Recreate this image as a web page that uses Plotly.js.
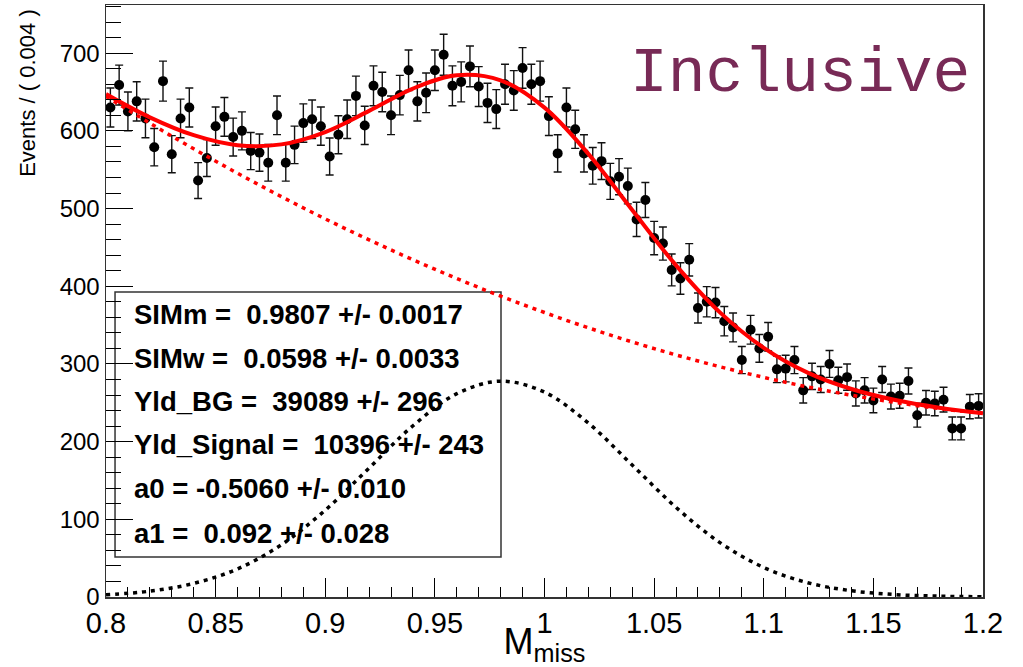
<!DOCTYPE html>
<html>
<head>
<meta charset="utf-8">
<script src="https://cdn.plot.ly/plotly-3.0.1.min.js"></script>
<style>
  html, body { margin: 0; padding: 0; background: #ffffff; }
  #chart { width: 1023px; height: 667px; }
</style>
</head>
<body>
<div id="chart"></div>
<script>
// ---- Data ----
const binCenter = [
  0.802,0.806,0.810,0.814,0.818,0.822,0.826,0.830,0.834,0.838,
  0.842,0.846,0.850,0.854,0.858,0.862,0.866,0.870,0.874,0.878,
  0.882,0.886,0.890,0.894,0.898,0.902,0.906,0.910,0.914,0.918,
  0.922,0.926,0.930,0.934,0.938,0.942,0.946,0.950,0.954,0.958,
  0.962,0.966,0.970,0.974,0.978,0.982,0.986,0.990,0.994,0.998,
  1.002,1.006,1.010,1.014,1.018,1.022,1.026,1.030,1.034,1.038,
  1.042,1.046,1.050,1.054,1.058,1.062,1.066,1.070,1.074,1.078,
  1.082,1.086,1.090,1.094,1.098,1.102,1.106,1.110,1.114,1.118,
  1.122,1.126,1.130,1.134,1.138,1.142,1.146,1.150,1.154,1.158,
  1.162,1.166,1.170,1.174,1.178,1.182,1.186,1.190,1.194,1.198
];
const events = [
  630,659,625,638,616,579,664,570,616,630,
  536,565,606,618,592,600,574,572,559,620,
  559,582,610,615,606,567,595,615,645,607,
  658,650,620,646,678,638,649,678,698,658,
  663,683,657,636,628,660,652,681,660,664,
  619,571,630,602,571,555,561,535,541,529,
  486,511,462,455,421,410,434,372,380,379,
  355,347,305,344,320,335,293,294,305,266,
  284,280,300,279,283,262,266,253,280,258,
  259,278,234,250,249,254,217,217,245,246
];
const curveX = [0.80,0.82,0.84,0.86,0.88,0.90,0.92,0.94,0.96,0.98,1.00,
                1.02,1.04,1.06,1.08,1.10,1.12,1.14,1.16,1.18,1.20];
const totalFit = [647.3,617.4,594.4,581.6,582.6,598.5,625.7,654.5,671.6,665.1,629.9,
                  570.3,498.2,426.9,366.4,320.7,288.8,267.7,253.5,243.7,236.6];
const bgFit = [644.4,609.9,576.9,545.4,515.3,486.7,459.7,434.1,409.9,387.3,366.2,
               346.5,328.3,311.6,296.4,282.7,270.4,259.7,250.4,242.6,236.3];
const sigFit = [2.9,7.5,17.5,36.2,67.3,111.8,166.0,220.4,261.7,277.8,263.7,
                223.8,169.9,115.3,70.0,38.0,18.4,8.0,3.1,1.1,0.3];

const xTickVals = [0.8,0.85,0.9,0.95,1.0,1.05,1.1,1.15,1.2];
const xTickText = ["0.8","0.85","0.9","0.95","1","1.05","1.1","1.15","1.2"];
const yTickVals = [0,100,200,300,400,500,600,700];
const yTickText = ["0","100","200","300","400","500","600","700"];

const paramNames  = ["SIMm","SIMw","Yld_BG","Yld_Signal","a0","a1"];
const paramValues = ["0.9807","0.0598","39089","10396","-0.5060","0.092"];
const paramErrors = ["0.0017","0.0033","296","243","0.010","0.028"];

const xTitle = "M<sub>miss</sub>";
const yTitle = "Events / ( 0.004 )";
const tagText = "Inclusive";

// ---- Traces ----
const dataTrace = {
  x: binCenter, y: events, type: "scatter", mode: "markers",
  marker: { color: "#000000", size: 10, symbol: "circle" },
  error_y: { type: "sqrt", visible: true, color: "#111111", thickness: 1.4, width: 4 },
  hoverinfo: "x+y", showlegend: false
};
const totalTrace = {
  x: curveX, y: totalFit, type: "scatter", mode: "lines",
  line: { color: "#ff0000", width: 4, shape: "spline" }, showlegend: false
};
const bgTrace = {
  x: curveX, y: bgFit, type: "scatter", mode: "lines",
  line: { color: "#ff0000", width: 3.5, dash: "4px,5px", shape: "spline" }, showlegend: false
};
const sigTrace = {
  x: curveX, y: sigFit, type: "scatter", mode: "lines",
  line: { color: "#000000", width: 3.5, dash: "4px,5px", shape: "spline" }, showlegend: false
};

// ---- Stats box text ----
const statLineY = [0.4764, 0.4037, 0.3294, 0.2584, 0.1841, 0.1081];
const annotations = paramNames.map((n, i) => {
  const v = paramValues[i];
  const sep = v.startsWith("-") ? " = " : " =\u00a0 ";
  return {
    xref: "paper", yref: "paper", x: 0.0297, y: statLineY[i],
    xanchor: "left", yanchor: "middle", showarrow: false,
    text: n + sep + v + " +/- " + paramErrors[i],
    font: { family: "Liberation Sans, Arial, sans-serif", size: 27.5, color: "#000000", weight: "bold" }
  };
});
annotations.push({
  xref: "paper", yref: "paper", x: 0.9875, y: 0.8834,
  xanchor: "right", yanchor: "middle", showarrow: false,
  text: tagText,
  font: { family: "Liberation Mono, Courier New, monospace", size: 63, color: "#782a56" }
});
annotations.push({
  xref: "paper", yref: "paper", x: -0.0889, y: 0.997,
  xanchor: "center", yanchor: "top", showarrow: false, textangle: -90,
  text: yTitle,
  font: { family: "Liberation Sans, Arial, sans-serif", size: 22, color: "#000000" }
});

const layout = {
  width: 1023, height: 667,
  margin: { l: 106, r: 40, t: 5, b: 70, pad: 0 },
  paper_bgcolor: "#ffffff", plot_bgcolor: "#ffffff",
  showlegend: false,
  font: { family: "Liberation Sans, Arial, sans-serif", color: "#000000" },
  xaxis: {
    range: [0.8, 1.2], tickmode: "array", tickvals: xTickVals, ticktext: xTickText,
    ticks: "inside", ticklen: 19, tickwidth: 1, tickcolor: "#000000",
    minor: { dtick: 0.01, tick0: 0.8, ticks: "inside", ticklen: 10, tickwidth: 1, tickcolor: "#000000", showgrid: false },
    showline: true, linecolor: "#333333", linewidth: 1.5, mirror: true,
    showgrid: false, zeroline: false,
    tickfont: { size: 29, color: "#000000" },
    title: { text: xTitle, font: { size: 36, color: "#000000" }, standoff: 0 }
  },
  yaxis: {
    range: [0, 762], tickmode: "array", tickvals: yTickVals, ticktext: yTickText,
    ticks: "inside", ticklen: 27, tickwidth: 1, tickcolor: "#000000",
    minor: { dtick: 20, tick0: 0, ticks: "inside", ticklen: 15, tickwidth: 1, tickcolor: "#000000", showgrid: false },
    showline: true, linecolor: "#333333", linewidth: 1.5, mirror: true,
    showgrid: false, zeroline: false,
    tickfont: { size: 24, color: "#000000" }
  },
  shapes: [{
    type: "rect", xref: "paper", yref: "paper",
    x0: 0.0103, x1: 0.4504, y0: 0.0676, y1: 0.5152,
    line: { color: "#333333", width: 1.5 }, fillcolor: "rgba(255,255,255,0)", layer: "below"
  }],
  annotations: annotations
};

Plotly.newPlot("chart", [dataTrace, totalTrace, bgTrace, sigTrace], layout,
  { displayModeBar: false, staticPlot: true });
</script>
</body>
</html>
